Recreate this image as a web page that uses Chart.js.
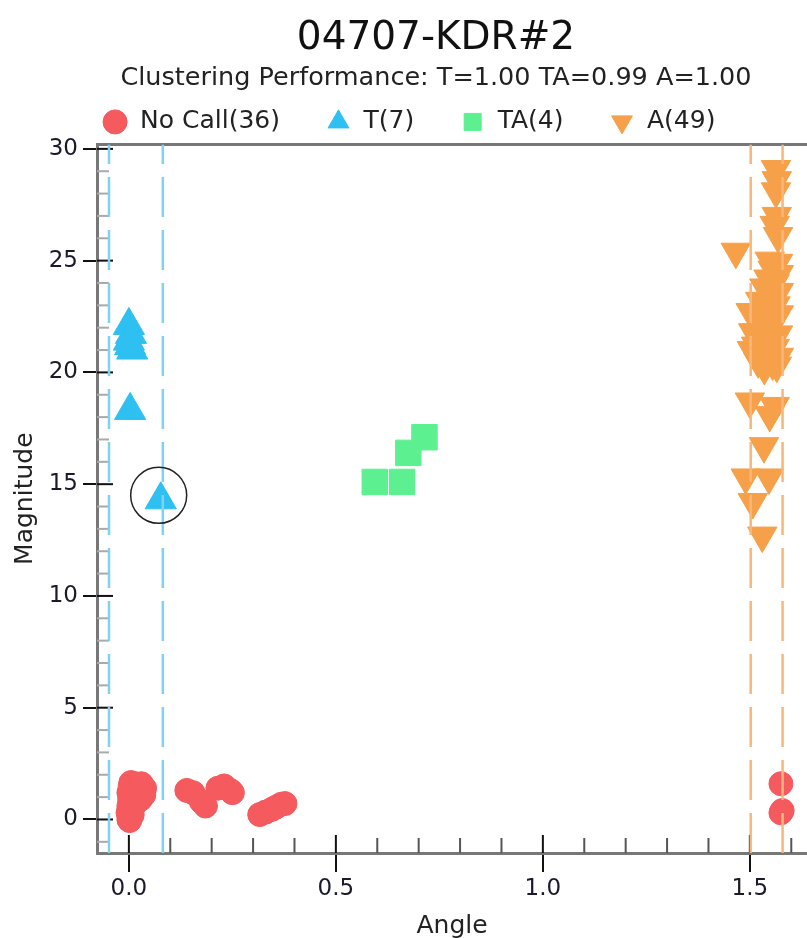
<!DOCTYPE html>
<html>
<head>
<meta charset="utf-8">
<script src="https://cdn.jsdelivr.net/npm/chart.js@4.4.0/dist/chart.umd.min.js"></script>
<style>
  html, body { margin: 0; padding: 0; background: #fff; overflow: hidden; }
</style>
</head>
<body>
<canvas id="chart" width="872" height="938"></canvas>
<script>
// --- data ---
const noCallAngle = [0.000, -0.002, 0.000, 0.002, 0.000, 0.003, 0.005, 0.015, 0.025, 0.038, 0.036, 0.028, 0.015, 0.012, 0.008, 0.030, 0.002, 0.020, 0.004,
  0.140, 0.155, 0.175, 0.185, 0.215, 0.230, 0.245, 0.250,
  0.316, 0.330, 0.345, 0.355, 0.368, 0.377,
  1.575, 1.575, 1.578]
const noCallMag = [0.0, 0.3, 0.6, 0.9, 1.2, 1.5, 1.65, 1.6, 1.5, 1.4, 1.1, 0.9, 1.2, 0.6, 0.2, 1.6, -0.05, 1.0, 0.4,
  1.3, 1.2, 0.8, 0.6, 1.4, 1.5, 1.3, 1.2,
  0.22, 0.33, 0.45, 0.55, 0.68, 0.71,
  1.6, 0.3, 0.4]

const tAngle = [0.000, 0.005, 0.000, 0.008, 0.003, 0.003, 0.077]
const tMag = [22.1, 21.7, 21.4, 21.0, 21.2, 18.3, 14.3]

const taAngle = [0.714, 0.675, 0.594, 0.660]
const taMag = [17.1, 16.4, 15.1, 15.1]

const aAngle = [1.563, 1.565, 1.563, 1.565, 1.560, 1.568, 1.466, 1.548, 1.568, 1.555,
  1.570, 1.545, 1.560, 1.535, 1.570, 1.550, 1.525, 1.562, 1.540, 1.502,
  1.570, 1.520, 1.555, 1.535, 1.508, 1.568, 1.545, 1.525, 1.560, 1.505,
  1.540, 1.570, 1.520, 1.555, 1.535, 1.565, 1.500, 1.548, 1.560, 1.534,
  1.490, 1.546, 1.507, 1.530, 1.558, 1.530, 1.548, 1.515, 1.528]
const aMag = [29.1, 28.6, 28.1, 27.0, 26.6, 26.1, 25.4, 25.0, 24.9, 24.6,
  24.4, 24.2, 24.0, 23.8, 23.6, 23.4, 23.2, 23.0, 22.9, 22.7,
  22.6, 22.4, 22.2, 22.0, 21.8, 21.7, 21.5, 21.3, 21.1, 21.0,
  20.8, 20.7, 20.5, 20.4, 20.2, 20.3, 18.7, 18.1, 18.5, 16.7,
  15.3, 15.3, 14.2, 12.7, 24.8, 22.5, 21.9, 21.2, 20.9]

const tLines = [-0.048, 0.082]
const aLines = [1.502, 1.579]
const circled = [0.072, 14.5]

const xMin = -0.077, xMax = 1.638
const yMin = -1.5, yMax = 30.2

const FONT = "'DejaVu Sans', sans-serif"

function pts(xs, ys) {
  return xs.map((x, i) => ({ x: x, y: ys[i] }))
}

function vline(x, color) {
  return {
    label: '',
    data: [{ x: x, y: yMin }, { x: x, y: yMax }],
    showLine: true,
    borderColor: color,
    borderWidth: 2.5,
    borderDash: [40, 13],
    pointRadius: 0,
    order: -1
  }
}

// minor ticks + inner part of major ticks + top frame
const frame = {
  id: 'frame',
  afterLayout(chart) {
    // legend sits a little left of the title in the original
    chart.legend.right = 818
  },
  beforeDatasetsDraw(chart) {
    const { ctx, chartArea, scales: { x, y } } = chart
    ctx.save()
    ctx.lineWidth = 2
    for (let v = -1; v <= 30; v++) {
      const py = y.getPixelForValue(v)
      const major = v % 5 === 0
      ctx.strokeStyle = major ? '#111' : '#aaa'
      ctx.beginPath()
      ctx.moveTo(chartArea.left, py)
      ctx.lineTo(chartArea.left + (major ? 16 : 12), py)
      ctx.stroke()
    }
    for (let k = 0; k <= 16; k++) {
      const px = x.getPixelForValue(k / 10)
      const major = k % 5 === 0
      ctx.strokeStyle = major ? '#111' : '#555'
      ctx.beginPath()
      ctx.moveTo(px, chartArea.bottom)
      ctx.lineTo(px, chartArea.bottom - (major ? 18 : 15))
      ctx.stroke()
    }
    ctx.strokeStyle = '#777'
    ctx.lineWidth = 3
    ctx.beginPath()
    ctx.moveTo(chartArea.left, chartArea.top)
    ctx.lineTo(chartArea.right, chartArea.top)
    ctx.stroke()
    ctx.restore()
  }
}

new Chart(document.getElementById('chart'), {
  type: 'scatter',
  data: {
    datasets: [
      {
        label: 'No Call(36)',
        data: pts(noCallAngle, noCallMag),
        pointStyle: 'circle',
        pointRadius: 12,
        backgroundColor: '#f45a5e',
        borderColor: '#f45a5e',
        borderWidth: 1,
        order: 3
      },
      {
        label: 'T(7)',
        data: pts(tAngle, tMag),
        pointStyle: 'triangle',
        pointRadius: 18,
        backgroundColor: '#2dc0f0',
        borderColor: '#2dc0f0',
        borderWidth: 1,
        order: 2
      },
      {
        label: 'TA(4)',
        data: pts(taAngle, taMag),
        pointStyle: 'rect',
        pointRadius: 18,
        backgroundColor: '#5cf090',
        borderColor: '#5cf090',
        borderWidth: 1,
        order: 1
      },
      {
        label: 'A(49)',
        data: pts(aAngle, aMag),
        pointStyle: 'triangle',
        rotation: 180,
        pointRadius: 17,
        backgroundColor: '#f6a14a',
        borderColor: '#f6a14a',
        borderWidth: 1,
        order: 0
      },
      vline(tLines[0], '#80d2f2'),
      vline(tLines[1], '#80d2f2'),
      vline(aLines[0], '#f8b77a'),
      vline(aLines[1], '#f8b77a'),
      {
        label: '',
        data: [{ x: circled[0], y: circled[1] }],
        pointStyle: 'circle',
        pointRadius: 28,
        backgroundColor: 'rgba(0,0,0,0)',
        borderColor: '#222',
        borderWidth: 1.5,
        order: -2
      }
    ]
  },
  options: {
    responsive: false,
    devicePixelRatio: 1,
    animation: false,
    layout: { padding: 0 },
    plugins: {
      title: {
        display: true,
        text: '04707-KDR#2',
        color: '#111',
        font: { family: FONT, size: 39, weight: 'normal' },
        padding: { top: 15, bottom: 1 }
      },
      subtitle: {
        display: true,
        text: 'Clustering Performance: T=1.00 TA=0.99 A=1.00',
        color: '#222',
        font: { family: FONT, size: 25.5 },
        padding: { top: 0, bottom: -30 }
      },
      legend: {
        labels: {
          usePointStyle: true,
          boxHeight: 17,
          padding: 46,
          color: '#222',
          font: { family: FONT, size: 25 },
          filter: item => item.text !== '',
          sort: (a, b) => a.datasetIndex - b.datasetIndex
        }
      },
      tooltip: { enabled: false }
    },
    scales: {
      x: {
        type: 'linear',
        min: xMin,
        max: xMax,
        afterFit: s => { s.height = 85; s.paddingLeft = 0; s.paddingRight = 65 },
        ticks: {
          stepSize: 0.5,
          includeBounds: false,
          callback: v => v.toFixed(1),
          color: '#1a1a2a',
          font: { family: FONT, size: 23 },
          padding: 3,
          maxRotation: 0
        },
        grid: { drawOnChartArea: false, tickLength: 19, color: '#111', lineWidth: 2 },
        border: { color: '#777', width: 3 },
        title: {
          display: true,
          text: 'Angle',
          color: '#222',
          font: { family: FONT, size: 25 },
          padding: { top: 0, bottom: -3 }
        }
      },
      y: {
        min: yMin,
        max: yMax,
        afterFit: s => { s.width = 97 },
        ticks: {
          stepSize: 5,
          includeBounds: false,
          color: '#1a1a2a',
          font: { family: FONT, size: 23 },
          padding: 5
        },
        grid: { drawOnChartArea: false, tickLength: 14, color: '#111', lineWidth: 2 },
        border: { color: '#777', width: 3 },
        title: {
          display: true,
          text: 'Magnitude',
          color: '#222',
          font: { family: FONT, size: 25 },
          padding: { top: 10, bottom: 0 }
        }
      }
    }
  },
  plugins: [frame]
})
</script>
</body>
</html>
